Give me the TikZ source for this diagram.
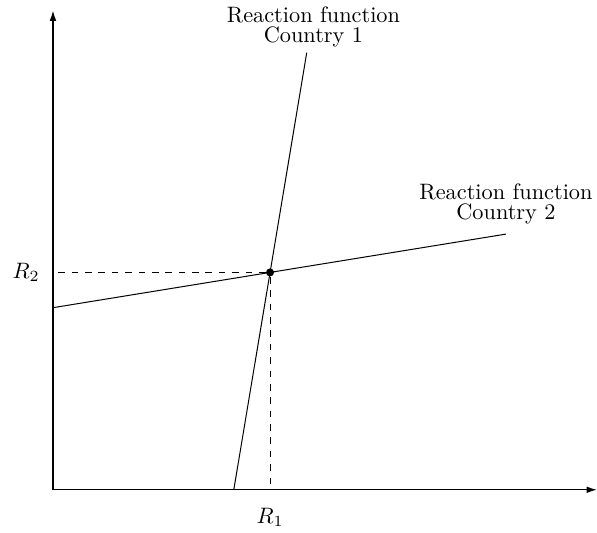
\documentclass[tikz,border=0pt]{standalone}
\usepackage{tikz}
\usetikzlibrary{positioning,intersections,arrows.meta}
\tikzset{
  axis/.style={-{Latex[length=4.5pt,width=3pt]}, line width=0.5pt},
  rfline/.style={line width=0.45pt},
  dot/.style={circle, fill=black, inner sep=0pt, minimum size=3.6pt},
  rflabel/.style={align=center, font=\normalsize}
}

\begin{document}
\begin{tikzpicture}
  \def\xmax{8.57}
  \def\ymax{7.55}
  \useasboundingbox (-0.835,-0.678) rectangle (8.575,7.72);
  % axes
  \coordinate (O) at (0,0);
  \coordinate (xend) at (\xmax,0);
  \coordinate (yend) at (0,\ymax);
  \draw[axis] (O) -- (xend);
  \draw[axis] (O) -- (yend);

  % reaction functions
  \coordinate (rf1a) at (2.85,0);
  \coordinate (rf1b) at (4.00,6.89);
  \coordinate (rf2a) at (0,2.87);
  \coordinate (rf2b) at (7.14,4.03);
  \draw[rfline, name path=rf1] (rf1a) -- (rf1b);
  \draw[rfline, name path=rf2] (rf2a) -- (rf2b);
  \path[name intersections={of=rf1 and rf2, by=eq}];
  \node[dot] (E) at (eq) {};

  % projections on the axes
  \coordinate (R1) at (eq |- O);
  \coordinate (R2) at (eq -| O);
  \draw[dashed] (E) -- (R1);
  \draw[dashed] (E) -- (R2);

  \node[below=8pt of R1, inner sep=0pt] (lR1) {$R_1$};
  \node[left=5.8pt of R2, inner sep=0pt] (lR2) {$R_2$};

  \node[rflabel, above=-1pt of rf1b, xshift=3pt] (lrf1) {Reaction function\\[-3pt]Country 1};
  \node[rflabel, above=1pt of rf2b] (lrf2) {Reaction function\\[-3pt]Country 2};
\end{tikzpicture}
\end{document}
